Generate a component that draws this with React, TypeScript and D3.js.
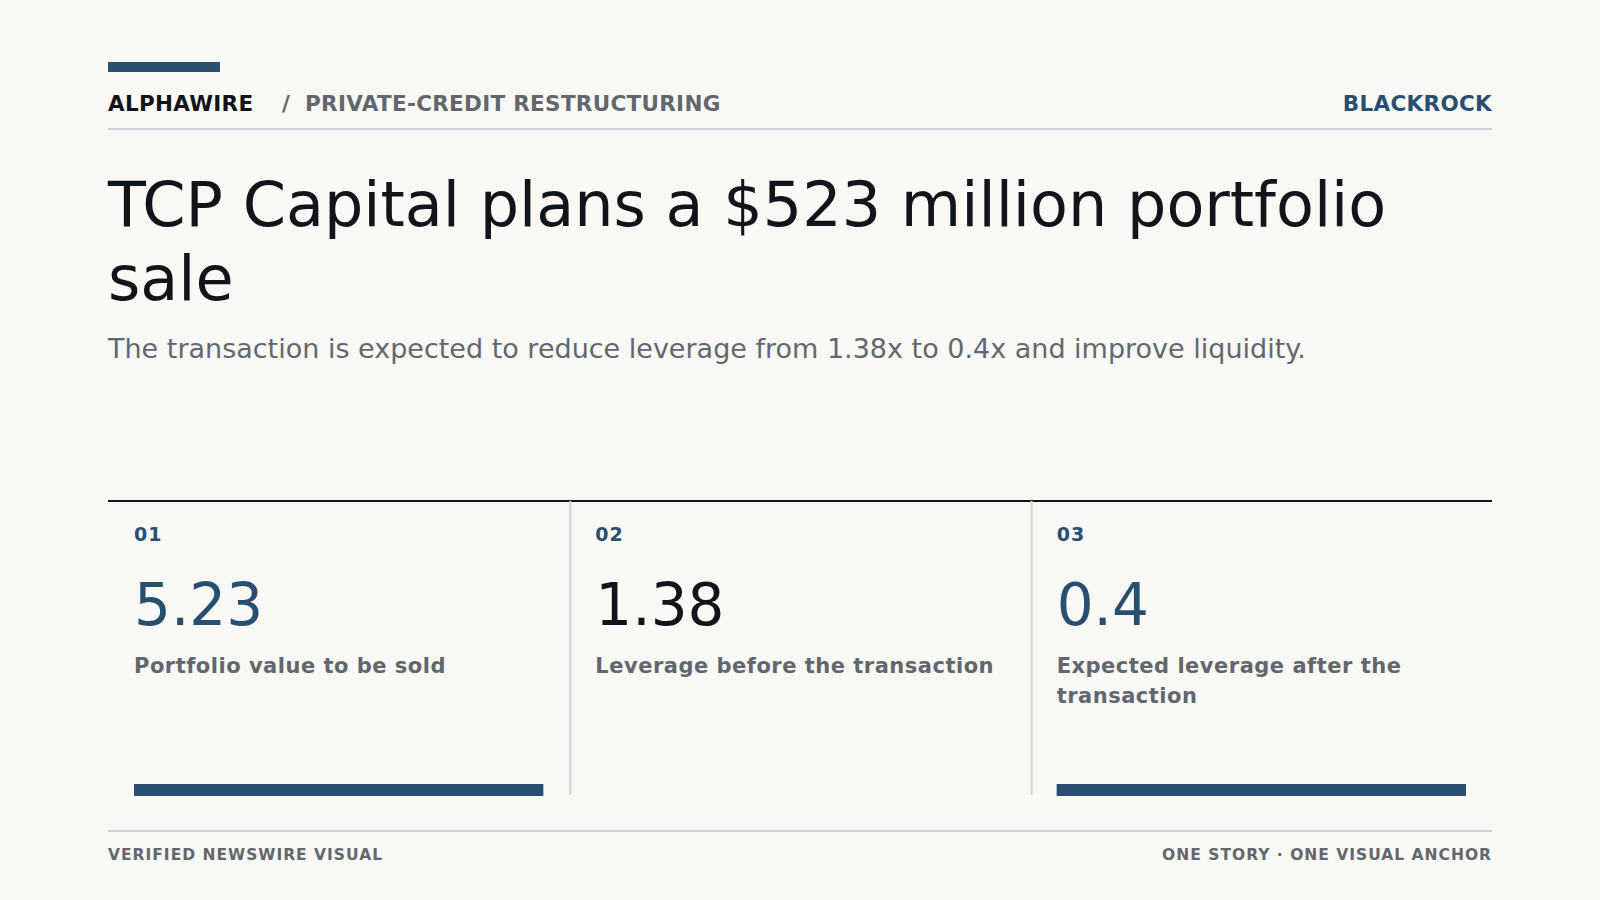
import * as d3 from "d3";
import React, { useEffect, useRef } from "react";

// header / copy
const kicker = "ALPHAWIRE";
const section = "PRIVATE-CREDIT RESTRUCTURING";
const source = "BLACKROCK";
const headline = "TCP Capital plans a $523 million portfolio sale";
const dek =
  "The transaction is expected to reduce leverage from 1.38x to 0.4x and improve liquidity.";
const footLeft = "VERIFIED NEWSWIRE VISUAL";
const footRight = "ONE STORY · ONE VISUAL ANCHOR";

// stat cards
const cardIds = ["01", "02", "03"];
const cardValues = [5.23, 1.38, 0.4];
const cardLabels = [
  "Portfolio value to be sold",
  "Leverage before the transaction",
  "Expected leverage after the transaction",
];
const cardAccent = [true, false, true];

const W = 1600;
const H = 900;
const NAVY = "#284f6f";
const INK = "#111418";
const GREY = "#62676d";
const RULE = "#d0d3d3";
const FONT = "'DejaVu Sans', Verdana, sans-serif";

function wrap(sel: any, maxWidth: number, lineHeight: number) {
  sel.each(function (this: SVGTextElement) {
    const text = d3.select(this);
    const words = text.text().split(/\s+/);
    const x = text.attr("x");
    text.text(null);
    let line: string[] = [];
    let tspan = text.append("tspan").attr("x", x).attr("dy", 0);
    for (const w of words) {
      line.push(w);
      tspan.text(line.join(" "));
      if ((tspan.node() as any).getComputedTextLength() > maxWidth && line.length > 1) {
        line.pop();
        tspan.text(line.join(" "));
        line = [w];
        tspan = text.append("tspan").attr("x", x).attr("dy", lineHeight).text(w);
      }
    }
  });
}

export default function App() {
  const ref = useRef<SVGSVGElement>(null);

  useEffect(() => {
    const svg = d3.select(ref.current);
    svg.selectAll("*").remove();
    const left = 108;
    const right = 1492;

    svg.append("rect").attr("width", W).attr("height", H).attr("fill", "#f8f8f5");

    // header
    svg.append("rect").attr("x", left).attr("y", 62).attr("width", 112).attr("height", 10).attr("fill", NAVY);
    const head = (t: string, xx: number, fill: string, anchor = "start", ls = 0.3) =>
      svg
        .append("text")
        .text(t)
        .attr("x", xx)
        .attr("y", 111)
        .attr("text-anchor", anchor)
        .attr("font-size", 21.5)
        .attr("font-weight", 700)
        .attr("letter-spacing", ls)
        .attr("fill", fill);
    head(kicker, left, INK);
    head("/", 282, GREY, "start", 0);
    head(section, 305, GREY);
    head(source, right, NAVY, "end");
    svg.append("line").attr("x1", left).attr("x2", right).attr("y1", 129).attr("y2", 129).attr("stroke", RULE).attr("stroke-width", 2);

    // headline + dek
    svg
      .append("text")
      .text(headline)
      .attr("x", left)
      .attr("y", 226)
      .attr("font-size", 62)
      .attr("fill", INK)
      .call(wrap, 1384, 74);
    svg
      .append("text")
      .text(dek)
      .attr("x", left)
      .attr("y", 358)
      .attr("font-size", 27)
      .attr("fill", GREY);

    // cards
    const x = d3.scaleBand<string>().domain(cardIds).range([left, right]).padding(0);
    const pad = 26;
    const top = 501;
    const bottom = 795;
    const cards = svg
      .selectAll("g.card")
      .data(cardIds)
      .enter()
      .append("g")
      .attr("class", "card")
      .attr("transform", (d) => `translate(${x(d)},0)`);

    cards
      .append("line")
      .attr("x1", 0)
      .attr("x2", x.bandwidth())
      .attr("y1", top)
      .attr("y2", top)
      .attr("stroke", INK)
      .attr("stroke-width", 2);
    cards
      .filter((d, i) => i > 0)
      .append("line")
      .attr("x1", 1)
      .attr("x2", 1)
      .attr("y1", top)
      .attr("y2", bottom)
      .attr("stroke", RULE)
      .attr("stroke-width", 2);
    cards
      .append("text")
      .text((d) => d)
      .attr("x", pad)
      .attr("y", 541)
      .attr("font-size", 19)
      .attr("font-weight", 700)
      .attr("letter-spacing", 1)
      .attr("fill", NAVY);
    cards
      .append("text")
      .text((d, i) => String(cardValues[i]))
      .attr("x", pad)
      .attr("y", 625)
      .attr("font-size", 58)
      .attr("fill", (d, i) => (cardAccent[i] ? NAVY : INK));
    cards
      .append("text")
      .text((d, i) => cardLabels[i])
      .attr("x", pad)
      .attr("y", 673)
      .attr("font-size", 21)
      .attr("font-weight", 700)
      .attr("letter-spacing", 0.5)
      .attr("fill", GREY)
      .call(wrap, x.bandwidth() - 2 * pad, 30);
    cards
      .filter((d, i) => cardAccent[i])
      .append("rect")
      .attr("x", pad)
      .attr("y", 784)
      .attr("width", x.bandwidth() - 2 * pad)
      .attr("height", 12)
      .attr("fill", NAVY);

    // footer
    svg.append("line").attr("x1", left).attr("x2", right).attr("y1", 831).attr("y2", 831).attr("stroke", RULE).attr("stroke-width", 2);
    svg
      .append("text")
      .text(footLeft)
      .attr("x", left)
      .attr("y", 860)
      .attr("font-size", 15.5)
      .attr("font-weight", 700)
      .attr("letter-spacing", 1)
      .attr("fill", GREY);
    svg
      .append("text")
      .text(footRight)
      .attr("x", right)
      .attr("y", 860)
      .attr("text-anchor", "end")
      .attr("font-size", 15.5)
      .attr("font-weight", 700)
      .attr("letter-spacing", 1)
      .attr("fill", GREY);
  }, []);

  return (
    <svg
      ref={ref}
      width={W}
      height={H}
      fontFamily={FONT}
      style={{ position: "absolute", left: 0, top: 0, display: "block" }}
    />
  );
}
